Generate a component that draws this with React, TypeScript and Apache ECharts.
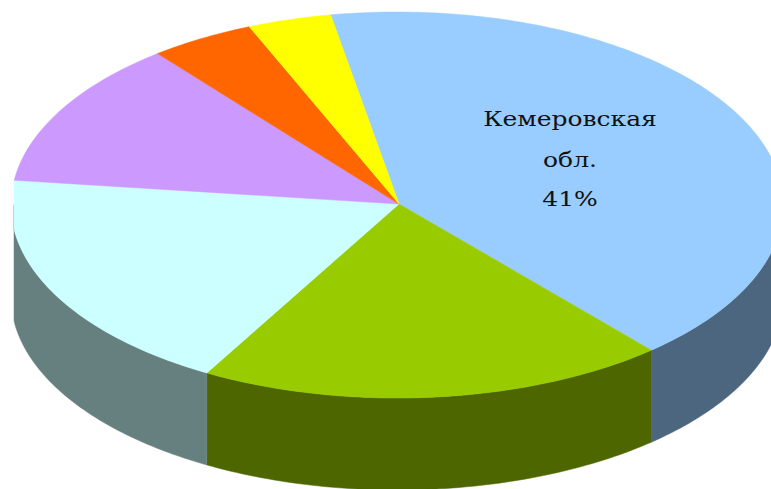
import React, { useEffect, useRef } from "react";
import * as echarts from "echarts";

const sliceValues = [41.3, 19.65, 18.85, 12.3, 4.4, 3.5];
const topColors = ["#99CCFF", "#99CC00", "#CCFFFF", "#CC99FF", "#FF6600", "#FFFF00"];
const sideColors = ["#4D6680", "#4D6600", "#668080", "#664D80", "#803300", "#808000"];
const labelLines = ["Кемеровская", "обл.", "41%"];

const APEX_X = 399, APEX_Y = 204;
const CX = 397, CY = 205, RX = 386, RY = 193, DEPTH = 92, LEFT_CLIP = 14;
const START = -9.9;
const total = sliceValues.reduce((a, b) => a + b, 0);

const pt = (deg: number, dy = 0): number[] => {
  const r = (deg * Math.PI) / 180;
  return [Math.max(LEFT_CLIP, CX + RX * Math.sin(r)), CY - RY * Math.cos(r) + dy];
};

const arcPoints = (a: number, b: number, dy = 0): number[][] => {
  const pts: number[][] = [];
  const n = Math.max(2, Math.ceil(b - a));
  for (let i = 0; i <= n; i++) pts.push(pt(a + ((b - a) * i) / n, dy));
  return pts;
};

export default function App() {
  const ref = useRef<HTMLDivElement>(null);
  useEffect(() => {
    document.body.style.margin = "0";
    const chart = echarts.init(ref.current!, null, { renderer: "svg" });
    chart.setOption({
      animation: false,
      backgroundColor: "#ffffff",
      series: [
        {
          type: "custom",
          coordinateSystem: "none",
          silent: true,
          data: sliceValues.map((v) => [v]),
          renderItem: (params: any, api: any) => {
            const i = params.dataIndex;
            let before = 0;
            for (let k = 0; k < i; k++) before += sliceValues[k];
            const a = START + (before / total) * 360;
            const b = a + (api.value(0) / total) * 360;
            const children: any[] = [];
            // the visible wall is the part of the rim between 90 and 270 degrees
            const fa = Math.max(a, 90), fb = Math.min(b, 270);
            if (fb > fa) {
              const front = arcPoints(fa, fb, 0);
              const back = arcPoints(fa, fb, DEPTH).reverse();
              children.push({
                type: "polygon",
                shape: { points: [...front, ...back] },
                style: { fill: sideColors[i], stroke: sideColors[i], lineWidth: 0.5 },
              });
            }
            children.push({
              type: "polygon",
              shape: { points: [[APEX_X, APEX_Y], ...arcPoints(a, b)] },
              style: { fill: topColors[i], stroke: topColors[i], lineWidth: 0.5 },
            });
            if (i === 0) {
              const ys = [119, 160, 199];
              labelLines.forEach((t, k) => {
                children.push({
                  type: "text",
                  x: 570,
                  y: ys[k],
                  scaleX: 1.19,
                  style: {
                    text: t,
                    fill: "#111111",
                    font: '21px "DejaVu Serif"',
                    align: "center",
                    verticalAlign: "middle",
                  },
                });
              });
            }
            return { type: "group", children };
          },
        },
      ],
    });
    return () => chart.dispose();
  }, []);
  return <div ref={ref} style={{ width: 771, height: 489 }} />;
}
